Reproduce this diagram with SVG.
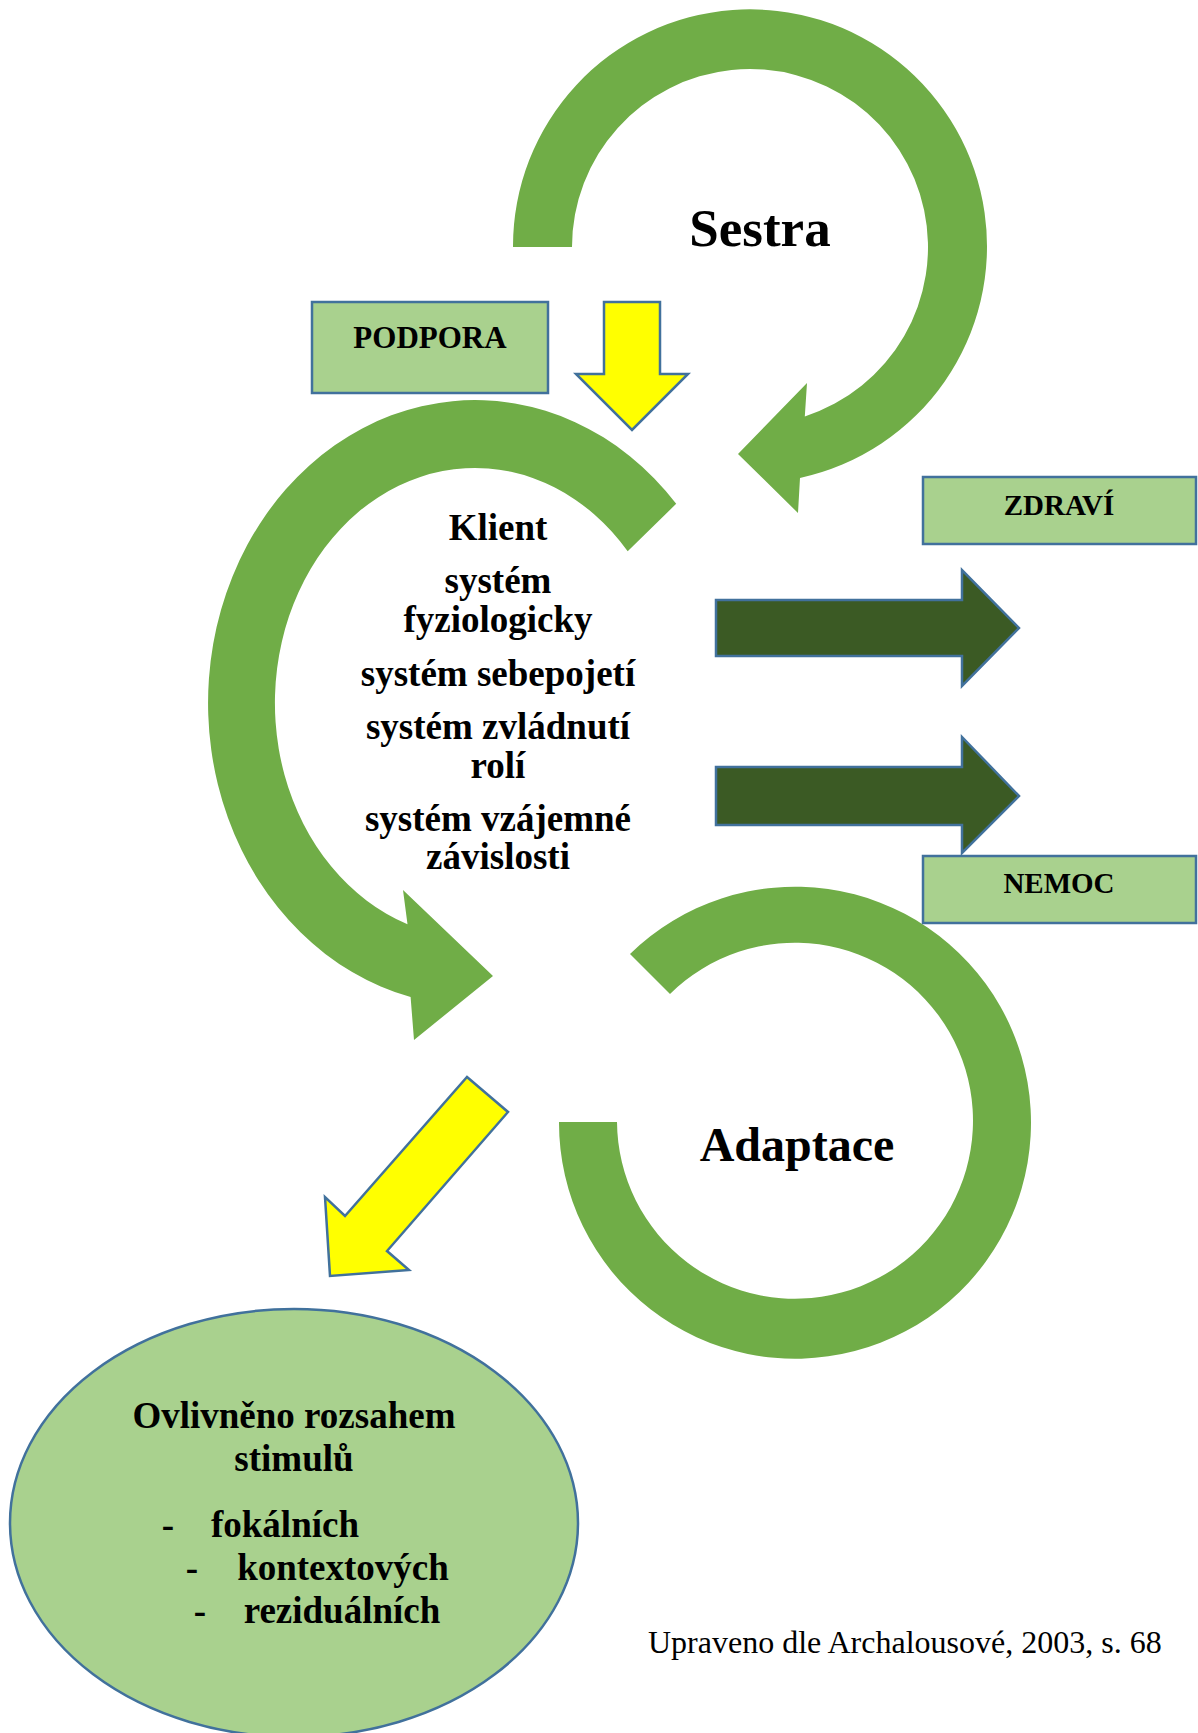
<svg xmlns="http://www.w3.org/2000/svg" width="1198" height="1733" viewBox="0 0 1198 1733">
<style>
.arc{fill:#70AD47;stroke:none}
.box{fill:#A9D18E;stroke:#41719C;stroke-width:2.5}
.yel{fill:#FFFF00;stroke:#41719C;stroke-width:2.5}
.dark{fill:#3B5A24;stroke:#41719C;stroke-width:2.5}
.t{font-family:"Liberation Serif","Times New Roman",serif;font-weight:bold;fill:#000;text-anchor:middle}
.cite{font-family:"Liberation Serif","Times New Roman",serif;fill:#000}
</style>
<rect width="1198" height="1733" fill="#fff"/>
<g id="node-sestra">
<path class="arc" d="M513,247 A237,237 0 1,1 800,478 L798,513 L738,454 L807,383 L804.8,416.4 A178,178 0 1,0 572,247 Z"/>
<text class="t" x="760" y="246" font-size="53">Sestra</text>
</g>
<g id="node-klient">
<path class="arc" d="M676.2,503.8 A267,303 0 1,0 410.6,997.1 L414,1040 L493,976 L403,890 L407.5,924.2 A200,235 0 1,1 627.7,551.3 Z"/>
<text class="t" x="498" y="540" font-size="37">Klient</text>
<text class="t" x="498" y="593" font-size="37">systém</text>
<text class="t" x="498" y="632" font-size="37">fyziologicky</text>
<text class="t" x="498" y="686" font-size="37">systém sebepojetí</text>
<text class="t" x="498" y="739" font-size="37">systém zvládnutí</text>
<text class="t" x="498" y="778" font-size="37">rolí</text>
<text class="t" x="498" y="831" font-size="37">systém vzájemné</text>
<text class="t" x="498" y="869" font-size="37">závislosti</text>
</g>
<g id="node-adaptace">
<path class="arc" d="M630,954 A236,236 0 1,1 559,1122 L617,1122 A178,178 0 1,0 670,994 Z"/>
<text class="t" x="797" y="1161" font-size="48">Adaptace</text>
</g>
<g id="node-podpora">
<rect class="box" x="312" y="302" width="236" height="91"/>
<text class="t" x="430" y="348" font-size="31">PODPORA</text>
</g>
<g id="node-zdravi">
<rect class="box" x="923" y="477" width="273" height="67"/>
<text class="t" x="1059" y="515" font-size="29">ZDRAVÍ</text>
</g>
<g id="node-nemoc">
<rect class="box" x="923" y="856" width="273" height="67"/>
<text class="t" x="1059" y="893" font-size="29">NEMOC</text>
</g>
<g id="connectors">
<polygon class="yel" points="604,302 660,302 660,374 688,374 632,430 576,374 604,374"/>
<polygon class="dark" points="716,600 962,600 962,570 1019,628 962,686 962,656 716,656"/>
<polygon class="dark" points="716,767 962,767 962,737 1019,796 962,853 962,825 716,825"/>
<polygon class="yel" points="467,1077 508,1112 387,1251 409,1270 330,1276 325,1197 345,1216"/>
</g>
<g id="node-stimuly">
<ellipse class="box" cx="294" cy="1523" rx="284" ry="214"/>
<text class="t" x="294" y="1428" font-size="37">Ovlivněno rozsahem</text>
<text class="t" x="294" y="1471" font-size="37">stimulů</text>
<text class="t" x="168" y="1537" font-size="37">-</text>
<text class="t" x="285" y="1537" font-size="37">fokálních</text>
<text class="t" x="192" y="1580" font-size="37">-</text>
<text class="t" x="343" y="1580" font-size="37">kontextových</text>
<text class="t" x="200" y="1623" font-size="37">-</text>
<text class="t" x="342" y="1623" font-size="37">reziduálních</text>
</g>
<text class="cite" x="648" y="1653" font-size="32">Upraveno dle Archalousové, 2003, s. 68</text>
</svg>
